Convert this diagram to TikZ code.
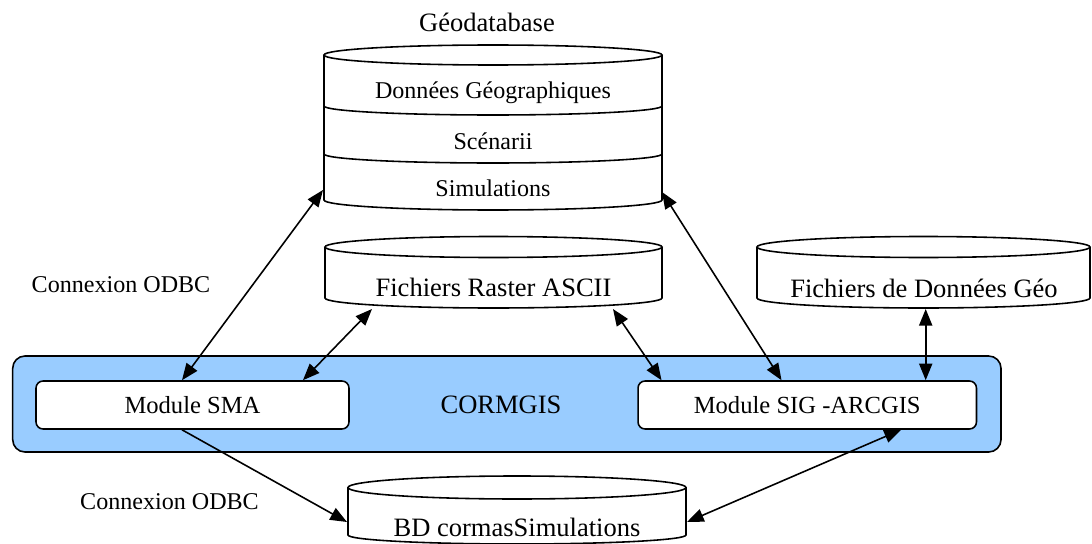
\documentclass[tikz,border=0pt]{standalone}
\usepackage{fontspec}
\setmainfont{Liberation Serif}
\usetikzlibrary{arrows.meta}
\definecolor{cormblue}{RGB}{153,204,255}
\newcommand{\bigtxt}{\fontsize{15.1}{18}\selectfont}
\newcommand{\smalltxt}{\fontsize{13.7}{16}\selectfont}

\begin{document}
\begin{tikzpicture}[x=0.02cm,y=-0.02cm,line width=0.9pt,
  >={Triangle[length=9.5pt,width=7.5pt]},
  module/.style={draw,fill=white,rounded corners=4pt,inner sep=0pt,
    minimum height=0.96cm,font=\fontsize{14}{16}\selectfont},
  label/.style={inner sep=0pt,font=\smalltxt}]
\useasboundingbox (0,0) rectangle (1092,544);

% Geodatabase
\draw[fill=white] (324,55) -- (324,200) arc[start angle=180,end angle=0,x radius=169,y radius=10] -- (662,55);
\draw (493,55) ellipse [x radius=169,y radius=10];
\draw (324,106) arc[start angle=180,end angle=0,x radius=169,y radius=9];
\draw (324,154) arc[start angle=180,end angle=0,x radius=169,y radius=9];
\node[inner sep=0pt,font=\bigtxt] (geodb) at (487,22) {Géodatabase};
\node[label] (geodata) at (493,93) {Données Géographiques};
\node[label] (scen) at (493,141) {Scénarii};
\node[label] (simu) at (493,188) {Simulations};
\coordinate (geodbW) at (323,190);
\coordinate (geodbE) at (662,192);

% Fichiers Raster ASCII
\draw[fill=white] (325,247) -- (325,298) arc[start angle=180,end angle=0,x radius=168.5,y radius=10] -- (662,247);
\draw (493.5,247) ellipse [x radius=168.5,y radius=10.5];
\node[inner sep=0pt,font=\bigtxt] (raster) at (493.5,287) {Fichiers Raster ASCII};
\coordinate (rasterW) at (372,309);
\coordinate (rasterE) at (613,309);

% Fichiers de Donnees Geo
\draw[fill=white] (757,247) -- (757,298) arc[start angle=180,end angle=0,x radius=166.5,y radius=10] -- (1090,247);
\draw (923.5,247) ellipse [x radius=166.5,y radius=10.5];
\node[inner sep=0pt,font=\bigtxt] (geofiles) at (924,288) {Fichiers de Données Géo};
\coordinate (geofilesS) at (925.7,309);

% CORMGIS
\draw[fill=cormblue,rounded corners=7pt] (12.7,356) rectangle (1001,452);
\node[inner sep=0pt,font=\bigtxt] (cormgis) at (501,405) {CORMGIS};
\node[module,minimum width=6.26cm] (sma) at (192.5,405) {Module SMA};
\node[module,minimum width=6.77cm] (sig) at (807.25,405) {Module SIG -ARCGIS};

% BD cormasSimulations
\draw[fill=white] (348,487.5) -- (348,535) arc[start angle=180,end angle=0,x radius=169,y radius=9] -- (686,487.5);
\draw (517,487.5) ellipse [x radius=169,y radius=11.5];
\node[inner sep=0pt,font=\bigtxt] (bd) at (517,527) {BD cormasSimulations};
\coordinate (bdW) at (347,522);
\coordinate (bdE) at (687,522);

\node[label] (odbcA) at (121,285) {Connexion ODBC};
\node[label] (odbcB) at (169.5,502) {Connexion ODBC};

% liaisons
\draw[<->] (geodbW) -- ([xshift=-0.21cm]sma.north);
\draw[<->] (rasterW) -- ([xshift=2.21cm]sma.north);
\draw[<->] (rasterE) -- ([xshift=-2.915cm]sig.north);
\draw[<->] (geodbE) -- ([xshift=-0.515cm]sig.north);
\draw[<->] (geofilesS) -- (geofilesS |- sig.north);
\draw[->] ([xshift=-0.21cm]sma.south) -- (bdW);
\draw[<->] ([xshift=1.875cm]sig.south) -- (bdE);
\end{tikzpicture}
\end{document}
